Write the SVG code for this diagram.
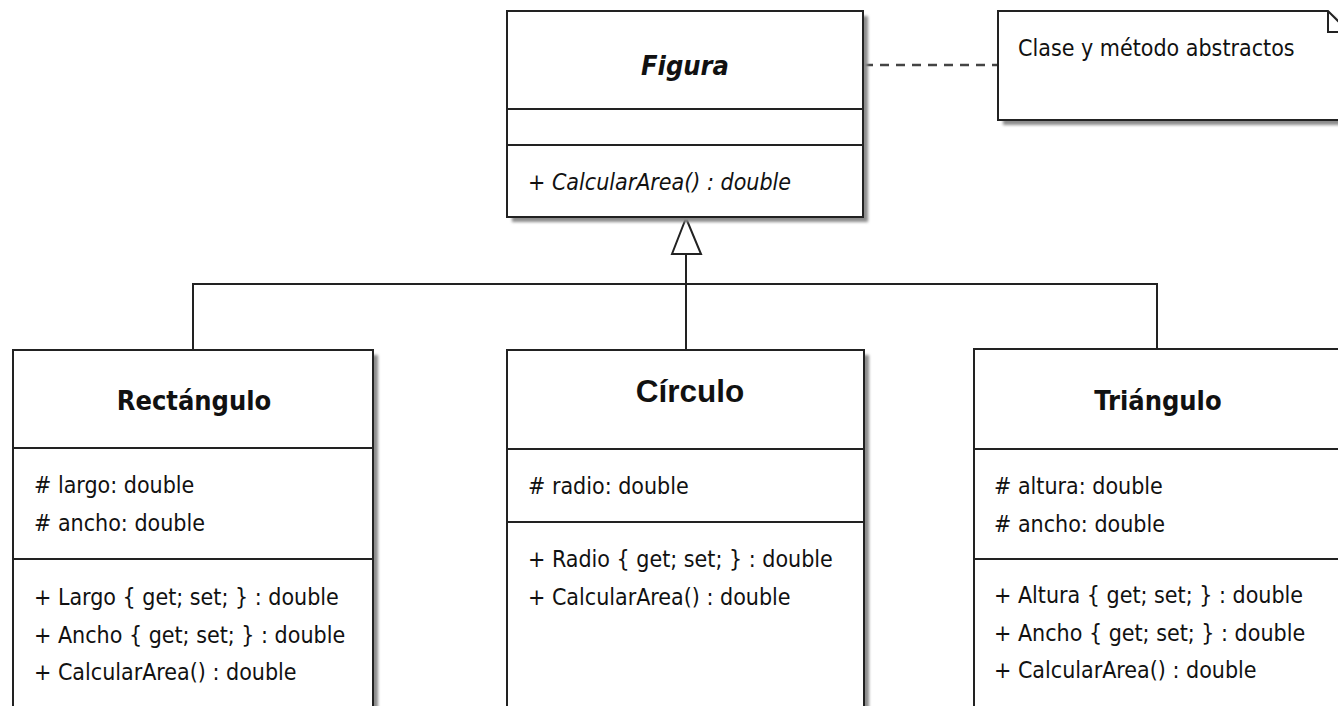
<svg xmlns="http://www.w3.org/2000/svg" width="1338" height="706" viewBox="0 0 1338 706">
<style>
.box{fill:#fff;stroke:#222;stroke-width:2}
.shadow{fill:#8c8c8c;filter:url(#blur)}
.sep{stroke:#222;stroke-width:2}
.t{font-family:"DejaVu Sans Condensed","DejaVu Sans",sans-serif;font-stretch:condensed;font-size:23px;fill:#111}
.title{font-family:"DejaVu Sans Condensed","DejaVu Sans",sans-serif;font-stretch:condensed;font-size:27px;font-weight:bold;fill:#111;text-anchor:middle}
.conn{fill:none;stroke:#222;stroke-width:2}
</style>
<defs>
<filter id="blur" x="-5%" y="-5%" width="110%" height="110%"><feGaussianBlur stdDeviation="1.5"/></filter>
</defs>
<rect width="1338" height="706" fill="#fff"/>

<g id="connectors">
<line x1="864" y1="65" x2="998" y2="65" stroke="#444" stroke-width="2.5" stroke-dasharray="9,7"/>
<path class="conn" d="M686,350 V254"/>
<path class="conn" d="M193,350 V284 H1157 V350"/>
<polygon points="686,218 672,254 701,254" fill="#fff" stroke="#222" stroke-width="2" stroke-linejoin="miter"/>
</g>

<g id="figura">
<rect class="shadow" x="512" y="16" width="356" height="206"/>
<rect class="box" x="507" y="11" width="356" height="206"/>
<line class="sep" x1="507" y1="109" x2="863" y2="109"/>
<line class="sep" x1="507" y1="145" x2="863" y2="145"/>
<text class="title" x="685" y="75" font-style="italic">Figura</text>
<text class="t" x="528" y="190" font-style="italic">+ CalcularArea() : double</text>
</g>

<g id="nota">
<path class="shadow" d="M1003,16 H1333 L1354,37 V125 H1003 Z"/>
<path class="box" d="M998,11 H1328 L1349,32 V120 H998 Z"/>
<path class="conn" d="M1328,11 V32 H1349"/>
<text class="t" x="1018" y="56">Clase y método abstractos</text>
</g>

<g id="rectangulo">
<rect class="shadow" x="18" y="355" width="360" height="380"/>
<rect class="box" x="13" y="350" width="360" height="380"/>
<line class="sep" x1="13" y1="448" x2="373" y2="448"/>
<line class="sep" x1="13" y1="559" x2="373" y2="559"/>
<text class="title" x="194" y="410">Rectángulo</text>
<text class="t" x="34" y="493"># largo: double</text>
<text class="t" x="34" y="531"># ancho: double</text>
<text class="t" x="34" y="605">+ Largo { get; set; } : double</text>
<text class="t" x="34" y="643">+ Ancho { get; set; } : double</text>
<text class="t" x="34" y="680">+ CalcularArea() : double</text>
</g>

<g id="circulo">
<rect class="shadow" x="512" y="355" width="357" height="380"/>
<rect class="box" x="507" y="350" width="357" height="380"/>
<line class="sep" x1="507" y1="449" x2="864" y2="449"/>
<line class="sep" x1="507" y1="522" x2="864" y2="522"/>
<text x="690" y="402" text-anchor="middle" font-family="'Liberation Sans',Arial,sans-serif" font-weight="bold" font-size="31.5" fill="#111">Círculo</text>
<text class="t" x="528" y="494"># radio: double</text>
<text class="t" x="528" y="567">+ Radio { get; set; } : double</text>
<text class="t" x="528" y="605">+ CalcularArea() : double</text>
</g>

<g id="triangulo">
<rect class="shadow" x="979" y="354" width="380" height="380"/>
<rect class="box" x="974" y="349" width="380" height="380"/>
<line class="sep" x1="974" y1="449" x2="1354" y2="449"/>
<line class="sep" x1="974" y1="559" x2="1354" y2="559"/>
<text class="title" x="1158" y="410">Triángulo</text>
<text class="t" x="994" y="494"># altura: double</text>
<text class="t" x="994" y="532"># ancho: double</text>
<text class="t" x="994" y="603">+ Altura { get; set; } : double</text>
<text class="t" x="994" y="641">+ Ancho { get; set; } : double</text>
<text class="t" x="994" y="678">+ CalcularArea() : double</text>
</g>
</svg>
